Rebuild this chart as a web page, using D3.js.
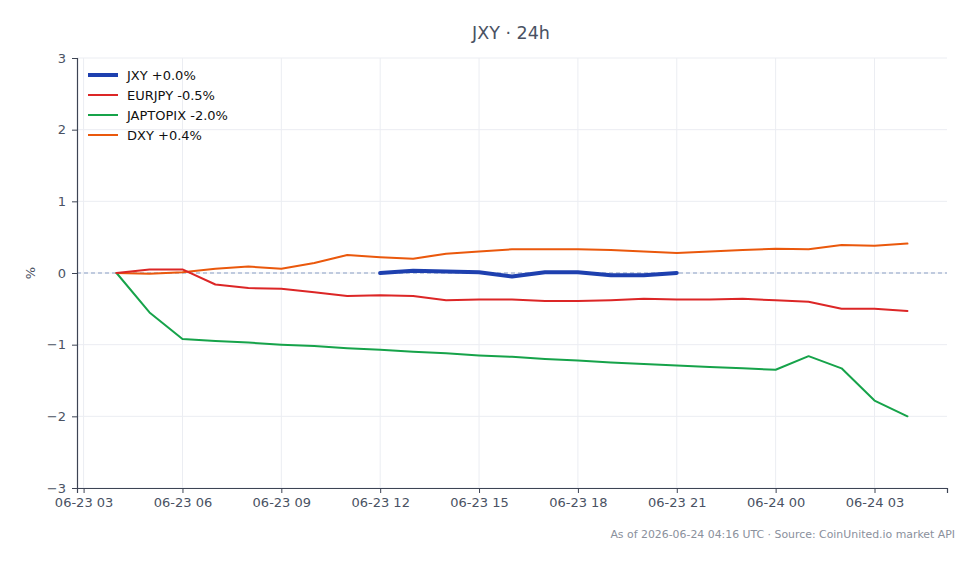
<!DOCTYPE html>
<html>
<head>
<meta charset="utf-8">
<script src="https://cdn.jsdelivr.net/npm/d3@7"></script>
<style>
  html, body { margin: 0; padding: 0; background: #ffffff; }
  svg { display: block; font-family: "DejaVu Sans", sans-serif; }
</style>
</head>
<body>
<svg id="chart" width="979" height="564"></svg>
<script>
// ---- data ----
const startTime = "2026-06-23T04:00:00Z";   // first hourly point
const hoursCount = 25;                        // hourly points to 06-24 04:00
const jxyOffset = 8;                          // JXY begins at 06-23 12:00
const jxyValues = [0.00, 0.03, 0.02, 0.01, -0.05, 0.01, 0.01, -0.03, -0.03, 0.00];
const eurjpyValues = [0.00, 0.05, 0.05, -0.16, -0.21, -0.22, -0.27, -0.32, -0.31, -0.32, -0.38, -0.37, -0.37,
  -0.39, -0.39, -0.38, -0.36, -0.37, -0.37, -0.36, -0.38, -0.40, -0.50, -0.50, -0.53];
const japtopixValues = [0.00, -0.55, -0.92, -0.95, -0.97, -1.00, -1.02, -1.05, -1.07, -1.10, -1.12, -1.15, -1.17,
  -1.20, -1.22, -1.25, -1.27, -1.29, -1.31, -1.33, -1.35, -1.16, -1.33, -1.78, -2.00];
const dxyValues = [0.00, -0.01, 0.01, 0.06, 0.09, 0.06, 0.14, 0.25, 0.22, 0.20, 0.27, 0.30, 0.33,
  0.33, 0.33, 0.32, 0.30, 0.28, 0.30, 0.32, 0.34, 0.33, 0.39, 0.38, 0.41];
const seriesNames = ["JXY +0.0%", "EURJPY -0.5%", "JAPTOPIX -2.0%", "DXY +0.4%"];
const seriesColors = ["#1e40af", "#dc2626", "#16a34a", "#ea580c"];
const yTicks = [-3, -2, -1, 0, 1, 2, 3];
const xTickStart = "2026-06-23T03:00:00Z";
const xTickCount = 9;
const titleText = "JXY · 24h";
const footerText = "As of 2026-06-24 04:16 UTC · Source: CoinUnited.io market API";

// ---- build ----
const H = 3600 * 1000;
const t0 = new Date(startTime).getTime();
const times = d3.range(hoursCount).map(i => new Date(t0 + i * H));
const mk = (vals, off) => vals.map((v, i) => ({ t: times[i + off], v }));
const series = [
  { name: seriesNames[0], color: seriesColors[0], width: 4, data: mk(jxyValues, jxyOffset) },
  { name: seriesNames[1], color: seriesColors[1], width: 2, data: mk(eurjpyValues, 0) },
  { name: seriesNames[2], color: seriesColors[2], width: 2, data: mk(japtopixValues, 0) },
  { name: seriesNames[3], color: seriesColors[3], width: 2, data: mk(dxyValues, 0) }
];

const L = 77, R = 947, T = 58, B = 488;
const tStart = times[0].getTime(), tEnd = times[times.length - 1].getTime();
const pad = (tEnd - tStart) * 0.05;
const x = d3.scaleUtc().domain([new Date(tStart - pad), new Date(tEnd + pad)]).range([L, R]);
const y = d3.scaleLinear().domain([-3, 3]).range([B, T]);

const svg = d3.select("#chart");
const textCol = "#4a5263";
const xTickVals = d3.range(xTickCount).map(i => new Date(new Date(xTickStart).getTime() + i * 3 * H));

// grid
const grid = svg.append("g");
grid.selectAll(".vg").data(xTickVals).enter().append("line")
  .attr("x1", d => x(d)).attr("x2", d => x(d)).attr("y1", T).attr("y2", B)
  .attr("stroke", "#ebedf2").attr("stroke-width", 1);
grid.selectAll(".hg").data(yTicks).enter().append("line")
  .attr("x1", L).attr("x2", R).attr("y1", d => y(d)).attr("y2", d => y(d))
  .attr("stroke", "#ebedf2").attr("stroke-width", 1);

// zero line
svg.append("line").attr("x1", L).attr("x2", R).attr("y1", y(0)).attr("y2", y(0))
  .attr("stroke", "#8a9fc4").attr("stroke-width", 1).attr("stroke-dasharray", "4,3");

// axes
const xAxis = svg.append("g").attr("transform", `translate(0,${B})`)
  .call(d3.axisBottom(x).tickValues(xTickVals).tickFormat(d3.utcFormat("%m-%d %H")).tickSizeOuter(0).tickSize(5).tickPadding(5));
const yAxis = svg.append("g").attr("transform", `translate(${L},0)`)
  .call(d3.axisLeft(y).tickValues(yTicks).tickFormat(d => d < 0 ? "\u2212" + Math.abs(d) : String(d)).tickSizeOuter(0).tickSize(5).tickPadding(6));
[xAxis, yAxis].forEach(a => {
  a.select(".domain").attr("stroke", "#3d4454").attr("stroke-width", 1.2);
  a.selectAll(".tick line").attr("stroke", "#3d4454");
  a.selectAll(".tick text").attr("fill", textCol).style("font-size", "13px").style("font-family", "DejaVu Sans, sans-serif");
});

// y label
svg.append("text").attr("transform", `translate(35,${y(0)}) rotate(-90)`)
  .attr("text-anchor", "middle").attr("fill", textCol).style("font-size", "13px").text("%");

// lines
const line = d3.line().x(d => x(d.t)).y(d => y(d.v));
[series[3], series[2], series[1], series[0]].forEach(s => {
  svg.append("path").datum(s.data).attr("d", line)
    .attr("fill", "none").attr("stroke", s.color).attr("stroke-width", s.width)
    .attr("stroke-linejoin", "round").attr("stroke-linecap", "round");
});

// legend
const lg = svg.append("g");
series.forEach((s, i) => {
  const yy = 75 + i * 20;
  lg.append("line").attr("x1", 88).attr("x2", 118).attr("y1", yy).attr("y2", yy)
    .attr("stroke", s.color).attr("stroke-width", s.width);
  lg.append("text").attr("x", 127).attr("y", yy).attr("dy", "0.35em")
    .attr("fill", "#111").style("font-size", "13px").text(s.name);
});

// title and footer
svg.append("text").attr("x", 511).attr("y", 33).attr("dy", "0.35em").attr("text-anchor", "middle")
  .attr("fill", textCol).style("font-size", "17.5px").text(titleText);
svg.append("text").attr("x", 955).attr("y", 534).attr("dy", "0.35em").attr("text-anchor", "end")
  .attr("fill", "#8a909c").style("font-size", "10.9px").text(footerText);
</script>
</body>
</html>
